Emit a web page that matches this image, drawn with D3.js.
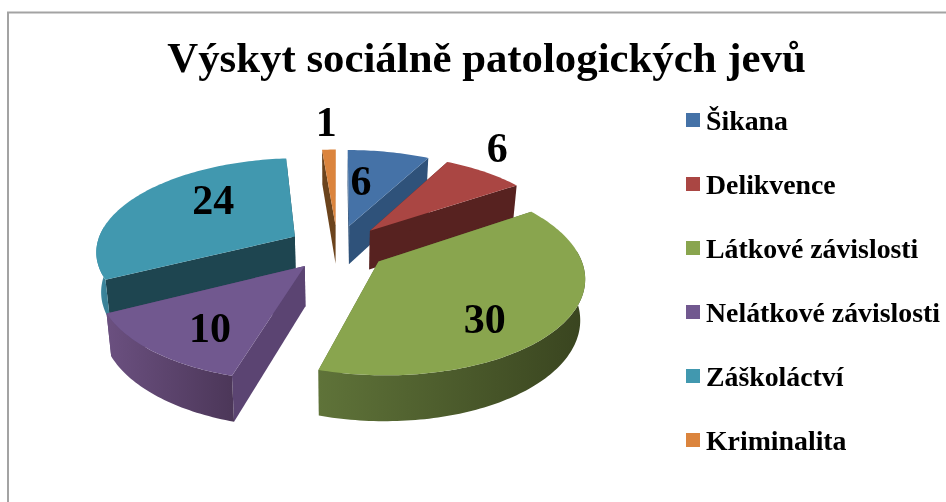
<!DOCTYPE html>
<html lang="cs">
<head>
<meta charset="utf-8">
<script src="https://cdnjs.cloudflare.com/ajax/libs/d3/7.8.5/d3.min.js"></script>
<style>
html,body{margin:0;padding:0;background:#fff;overflow:hidden}
svg{display:block;filter:blur(0.4px)}
text{font-family:"Liberation Serif","Times New Roman",serif;font-weight:bold;fill:#000}
</style>
</head>
<body>
<svg id="c" width="946" height="502"></svg>
<script>
const titleText = "Výskyt sociálně patologických jevů";
const categories = ["Šikana","Delikvence","Látkové závislosti","Nelátkové závislosti","Záškoláctví","Kriminalita"];
const values = [6,6,30,10,24,1];

const topColors  = ["#4572a7","#aa4643","#89a54e","#71588f","#4198af","#db843d"];
const faceColors = ["#2f527a","#572220","#5a6d33","#5b4472","#1e4550","#6b431c"];
const sideStart  = ["#3a5f8c","#7a3230","#5f7339","#6b5080","#3f8ea6","#8a5526"];
const sideEnd    = ["#2f4d70","#572220","#39441f","#4c3759","#3a8197","#6b431c"];
const labelNudge = [[-13,1],[56,-47],[0,20],[-8,13],[15,-12],[-5,-56]];
const drawOrder  = [0,5,4,1,3,2];

// pie geometry: a tilted plane seen in perspective, radius = 1
const cx=337.5, cy=247.6, explode=0.25, scaleX=199, scaleY=92.7, persp=0.1454;
const depth=39.5, botX=0.98, botY=1.05, wallLimit=0.12;

const svg=d3.select("#c");
svg.append("path").attr("d","M8,502V12.5H946").attr("fill","none").attr("stroke","#a3a3a3").attr("stroke-width",2);

const pie=d3.pie().sort(null).value(d=>d);
const arcs=pie(values);
const defs=svg.append("defs");

// position in the plane -> relative screen position
function project(a,theta,f){
  const m=(a.startAngle+a.endAngle)/2;
  const X=explode*Math.sin(m)+f*Math.sin(theta), Z=explode*Math.cos(m)+f*Math.cos(theta);
  const s=1/(1+persp*Z);
  return [scaleX*X*s,-scaleY*Z*s];
}
const up=p=>[cx+p[0],cy+p[1]];
const dn=p=>[cx+p[0]*botX,cy+depth+p[1]*botY];
const line=d3.line();
function samples(a0,a1){
  const n=Math.max(2,Math.ceil(Math.abs(a1-a0)/0.02));
  return d3.range(n+1).map(i=>a0+(a1-a0)*i/n);
}

drawOrder.forEach(i=>{
  const a=arcs[i];
  const g=svg.append("g");
  const apex=project(a,0,0);
  const thetas=samples(a.startAngle,a.endAngle);
  const rim=thetas.map(t=>project(a,t,1));

  // radial faces
  [a.endAngle,a.startAngle].forEach(t=>{
    const p=project(a,t,1);
    g.append("path")
      .attr("d",line([up(apex),up(p),dn(p),dn(apex)])+"Z")
      .attr("fill",faceColors[i]);
  });

  // outer wall: only the part that faces the viewer
  const front=thetas.filter(t=>Math.cos(t)<wallLimit).map(t=>project(a,t,1));
  if(front.length>1){
    const xs=front.map(p=>cx+p[0]);
    const gid="wall"+i;
    const lg=defs.append("linearGradient").attr("id",gid).attr("gradientUnits","userSpaceOnUse")
      .attr("x1",d3.min(xs)).attr("x2",d3.max(xs)).attr("y1",0).attr("y2",0);
    lg.append("stop").attr("offset",0).attr("stop-color",sideStart[i]);
    lg.append("stop").attr("offset",1).attr("stop-color",sideEnd[i]);
    const wall=front.map(up).concat(front.slice().reverse().map(dn));
    g.append("path").attr("d",line(wall)+"Z").attr("fill",`url(#${gid})`);
  }

  // top face
  g.append("path").attr("d",line([up(apex)].concat(rim.map(up)))+"Z").attr("fill",topColors[i]);
});

// value labels
arcs.forEach((a,i)=>{
  const m=(a.startAngle+a.endAngle)/2, p=up(project(a,m,0.6));
  svg.append("text").attr("x",p[0]+labelNudge[i][0]).attr("y",p[1]+labelNudge[i][1])
    .attr("dy","0.35em").attr("text-anchor","middle").attr("font-size",42).text(values[i]);
});

// title
svg.append("text").attr("x",486.5).attr("y",72).attr("text-anchor","middle").attr("font-size",42.8).text(titleText);

// legend
const legendY=d3.scalePoint().domain(categories).range([120,440]);
categories.forEach((c,i)=>{
  const y=legendY(c);
  svg.append("rect").attr("x",686).attr("y",y-7).attr("width",14).attr("height",14).attr("fill",topColors[i]);
  svg.append("text").attr("x",706).attr("y",y+10).attr("font-size",27.8).text(c);
});
</script>
</body>
</html>
